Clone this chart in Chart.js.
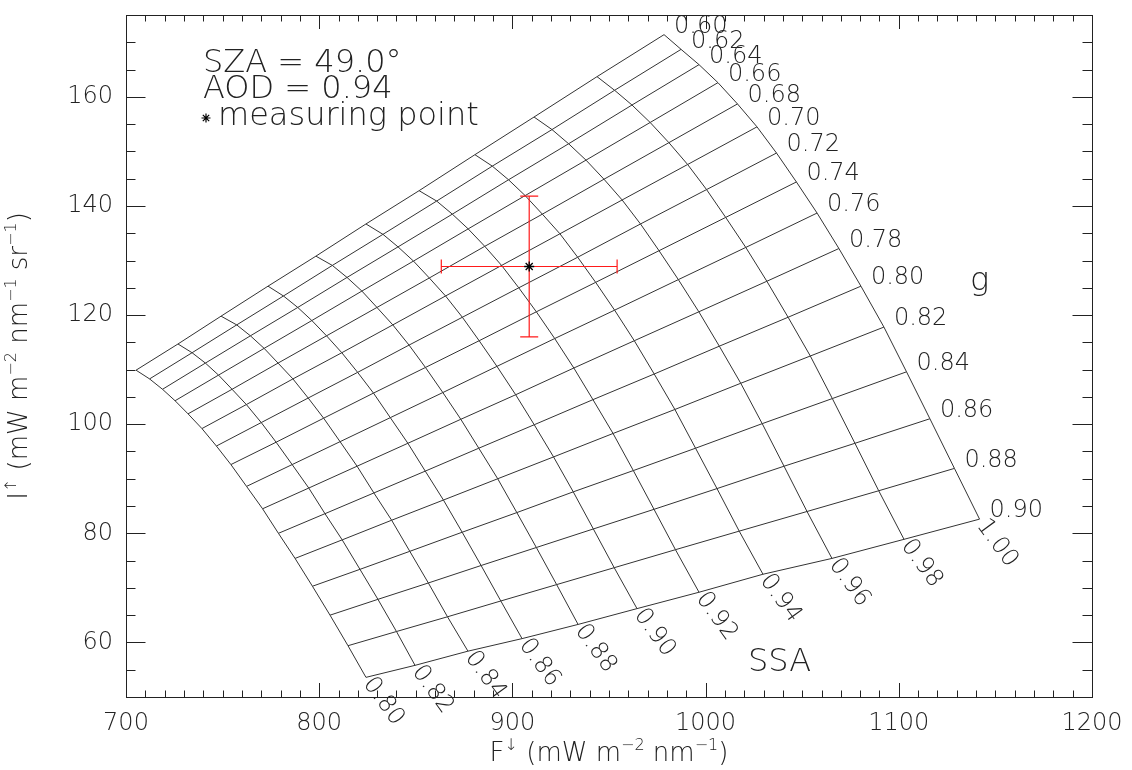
<!DOCTYPE html>
<html>
<head>
<meta charset="utf-8">
<script src="https://cdn.jsdelivr.net/npm/chart.js@4.4.1/dist/chart.umd.min.js"></script>
<style>
  html, body { margin: 0; padding: 0; background: #fff; }
  #wrap { width: 1132px; height: 770px; position: relative; }
</style>
</head>
<body>
<div id="wrap"><canvas id="lutChart"></canvas></div>
<script>
// grid parameters
var ssaValues = [0.80, 0.82, 0.84, 0.86, 0.88, 0.90, 0.92, 0.94, 0.96, 0.98, 1.00];
var gValues = [0.60, 0.62, 0.64, 0.66, 0.68, 0.70, 0.72, 0.74, 0.76, 0.78, 0.80, 0.82, 0.84, 0.86, 0.88, 0.90];
var ssaLabels = ["0.80", "0.82", "0.84", "0.86", "0.88", "0.90", "0.92", "0.94", "0.96", "0.98", "1.00"];
var gLabels = ["0.60", "0.62", "0.64", "0.66", "0.68", "0.70", "0.72", "0.74", "0.76", "0.78", "0.80", "0.82", "0.84", "0.86", "0.88", "0.90"];

// F (x) per g row, one value per SSA
var fluxRows = [
    [705.2, 726.9, 749.2, 773.5, 798.3, 824.2, 851.7, 880.6, 911.2, 943.8, 978.5],
    [712.2, 734.2, 757.3, 781.5, 806.8, 833.0, 860.8, 889.6, 920.5, 952.9, 987.3],
    [718.9, 741.1, 764.4, 788.9, 814.4, 840.8, 868.9, 898.0, 929.1, 961.9, 996.6],
    [725.4, 747.9, 771.5, 796.2, 822.1, 848.8, 877.1, 906.6, 938.1, 971.3, 1006.4],
    [732.1, 754.9, 778.7, 803.8, 829.9, 857.0, 885.7, 915.5, 947.4, 981.0, 1016.5],
    [739.3, 762.3, 786.4, 811.7, 838.1, 865.4, 894.4, 924.6, 956.8, 990.7, 1026.6],
    [746.8, 770.0, 794.3, 819.9, 846.5, 874.1, 903.3, 933.8, 966.3, 1000.5, 1036.7],
    [754.3, 777.7, 802.3, 828.1, 855.0, 882.8, 912.4, 943.1, 975.9, 1010.4, 1047.0],
    [762.4, 786.0, 810.8, 836.8, 864.0, 892.0, 921.9, 952.9, 985.9, 1020.8, 1057.7],
    [770.7, 794.6, 819.6, 845.9, 873.3, 901.7, 931.8, 963.1, 996.5, 1031.7, 1069.0],
    [778.9, 803.0, 828.3, 854.9, 882.6, 911.3, 941.7, 973.4, 1007.1, 1042.7, 1080.4],
    [787.5, 811.9, 837.5, 864.3, 892.4, 921.3, 952.1, 984.1, 1018.2, 1054.2, 1092.3],
    [796.5, 821.1, 846.9, 874.0, 902.3, 931.5, 962.6, 994.8, 1029.3, 1065.6, 1104.0],
    [805.6, 830.4, 856.5, 883.8, 912.4, 941.9, 973.3, 1005.9, 1040.6, 1077.3, 1116.1],
    [814.9, 840.0, 866.4, 894.0, 922.9, 952.7, 984.4, 1017.4, 1052.5, 1089.6, 1128.8],
    [824.2, 849.6, 877.0, 905.0, 934.0, 964.5, 996.6, 1029.7, 1065.4, 1102.7, 1141.8]
];

// I (y) per g row, one value per SSA
var radRows = [
    [109.9, 114.7, 119.8, 125.3, 130.8, 136.7, 142.8, 149.4, 156.3, 163.7, 171.4],
    [108.3, 113.1, 118.2, 123.5, 129.1, 134.8, 140.9, 147.3, 154.0, 161.2, 168.7],
    [106.4, 111.2, 116.2, 121.4, 126.9, 132.5, 138.5, 144.8, 151.4, 158.5, 165.9],
    [104.3, 109.0, 113.9, 119.0, 124.4, 129.9, 135.8, 141.9, 148.4, 155.3, 162.6],
    [101.9, 106.4, 111.2, 116.2, 121.4, 126.8, 132.6, 138.5, 144.9, 151.6, 158.7],
    [99.2, 103.6, 108.3, 113.1, 118.2, 123.5, 129.1, 134.9, 141.1, 147.6, 154.5],
    [96.0, 100.3, 104.8, 109.5, 114.5, 119.6, 125.0, 130.6, 136.7, 143.0, 149.7],
    [92.6, 96.7, 101.1, 105.7, 110.4, 115.3, 120.6, 126.0, 131.8, 137.9, 144.4],
    [88.6, 92.6, 96.8, 101.2, 105.8, 110.6, 115.7, 120.9, 126.5, 132.4, 138.7],
    [84.5, 88.3, 92.3, 96.5, 100.9, 105.4, 110.3, 115.3, 120.6, 126.2, 132.2],
    [80.0, 83.6, 87.4, 91.4, 95.6, 99.9, 104.5, 109.2, 114.3, 119.6, 125.3],
    [75.4, 78.8, 82.4, 86.1, 90.0, 94.0, 98.3, 102.7, 107.5, 112.5, 117.8],
    [70.3, 73.4, 76.7, 80.2, 83.8, 87.6, 91.5, 95.6, 100.1, 104.7, 109.6],
    [65.0, 67.9, 70.9, 74.1, 77.4, 80.8, 84.4, 88.2, 92.3, 96.5, 101.0],
    [59.4, 62.0, 64.7, 67.6, 70.6, 73.7, 77.0, 80.4, 84.0, 87.8, 91.9],
    [53.6, 55.8, 58.4, 60.7, 63.3, 66.2, 69.2, 72.5, 75.4, 78.9, 82.6]
];

// measuring point with error bars
var measF = 908.7, measI = 128.9;
var errF = 45.5, errI = 12.9;

var xTickValues = [700, 800, 900, 1000, 1100, 1200];
var yTickValues = [60, 80, 100, 120, 140, 160];

var FONT = '"DejaVu Sans", "Liberation Sans", sans-serif';
var INK = "#222";

function fontStr(size) { return "200 " + size + "px " + FONT; }

// text with superscripts, drawn left to right
function drawRich(ctx, parts, x, y, size, align) {
    var total = 0;
    parts.forEach(function (p) {
        ctx.font = fontStr(p.sup ? Math.round(size * 0.62) : size);
        p.w = ctx.measureText(p.t).width;
        total += p.w;
    });
    var cx = align === "center" ? x - total / 2 : x;
    ctx.textAlign = "left";
    ctx.textBaseline = "alphabetic";
    parts.forEach(function (p) {
        ctx.font = fontStr(p.sup ? Math.round(size * 0.62) : size);
        ctx.fillText(p.t, cx, p.sup ? y - size * 0.42 : y);
        cx += p.w;
    });
}

function drawStar(ctx, x, y, r) {
    ctx.beginPath();
    for (var k = 0; k < 4; k++) {
        var a = k * Math.PI / 4;
        ctx.moveTo(x - r * Math.cos(a), y - r * Math.sin(a));
        ctx.lineTo(x + r * Math.cos(a), y + r * Math.sin(a));
    }
    ctx.stroke();
}

var gridDecor = {
    id: "gridDecor",
    beforeDatasetDraw: function (chart, args) {
        if (args.index !== 0) return;
        var ctx = chart.ctx, xs = chart.scales.x, ys = chart.scales.y;
        var px = xs.getPixelForValue(measF), py = ys.getPixelForValue(measI);
        var x1 = xs.getPixelForValue(measF - errF), x2 = xs.getPixelForValue(measF + errF);
        var y1 = ys.getPixelForValue(measI + errI), y2 = ys.getPixelForValue(measI - errI);
        ctx.save();
        ctx.strokeStyle = "#ff1a1a";
        ctx.lineWidth = 1.2;
        ctx.beginPath();
        ctx.moveTo(x1, py); ctx.lineTo(x2, py);
        ctx.moveTo(x1, py - 7); ctx.lineTo(x1, py + 7);
        ctx.moveTo(x2, py - 7); ctx.lineTo(x2, py + 7);
        ctx.moveTo(px, y1); ctx.lineTo(px, y2);
        ctx.moveTo(px - 9, y1); ctx.lineTo(px + 9, y1);
        ctx.moveTo(px - 9, y2); ctx.lineTo(px + 9, y2);
        ctx.stroke();
        ctx.restore();
    },
    afterDraw: function (chart) {
        var ctx = chart.ctx, a = chart.chartArea;
        var xs = chart.scales.x, ys = chart.scales.y;
        ctx.save();
        ctx.strokeStyle = INK;
        ctx.fillStyle = INK;
        ctx.lineWidth = 1;

        // frame
        ctx.strokeRect(a.left + 0.5, a.top + 0.5, a.right - a.left, a.bottom - a.top);

        // ticks on all four sides
        ctx.beginPath();
        for (var v = 700; v <= 1200; v += 10) {
            var x = Math.round(xs.getPixelForValue(v)) + 0.5;
            var len = v % 100 === 0 ? 14 : 6.5;
            ctx.moveTo(x, a.bottom); ctx.lineTo(x, a.bottom - len);
            ctx.moveTo(x, a.top); ctx.lineTo(x, a.top + len);
        }
        for (var w = 50; w <= 175; w += 5) {
            var y = Math.round(ys.getPixelForValue(w)) + 0.5;
            var ln = w % 20 === 0 ? 19.5 : 9.5;
            ctx.moveTo(a.left, y); ctx.lineTo(a.left + ln, y);
            ctx.moveTo(a.right, y); ctx.lineTo(a.right - ln, y);
        }
        ctx.stroke();

        // g labels at the right end of each g line
        ctx.font = fontStr(24);
        ctx.textAlign = "left";
        ctx.textBaseline = "middle";
        gLabels.forEach(function (t, j) {
            var gx = xs.getPixelForValue(fluxRows[j][10]);
            var gy = ys.getPixelForValue(radRows[j][10]);
            ctx.fillText(t, gx + 10, gy - 8);
        });

        // SSA labels at the bottom end of each SSA curve
        ssaLabels.forEach(function (t, i) {
            var sx = xs.getPixelForValue(fluxRows[15][i]);
            var sy = ys.getPixelForValue(radRows[15][i]);
            ctx.save();
            ctx.translate(sx, sy);
            ctx.rotate(54 * Math.PI / 180);
            ctx.font = fontStr(24);
            ctx.textAlign = "left";
            ctx.textBaseline = "middle";
            ctx.fillText(t, 3, 0);
            ctx.restore();
        });

        // parameter names
        ctx.font = fontStr(32);
        ctx.textAlign = "left";
        ctx.textBaseline = "alphabetic";
        ctx.fillText("g", 970, 290);
        ctx.fillText("SSA", 748, 671);

        // annotation block
        ctx.fillText("SZA = 49.0\u00B0", a.left + 77, 72);
        ctx.fillText("AOD = 0.94", a.left + 77, 98);
        ctx.fillText("measuring point", a.left + 92, 125);
        ctx.lineWidth = 1.2;
        ctx.strokeStyle = "#000";
        drawStar(ctx, a.left + 80, 118, 4.5);

        // axis titles
        drawRich(ctx, [
            { t: "F" }, { t: "\u2193", sup: true }, { t: " (mW m" }, { t: "\u22122", sup: true },
            { t: " nm" }, { t: "\u22121", sup: true }, { t: ")" }
        ], (a.left + a.right) / 2, 761, 26, "center");

        ctx.save();
        ctx.translate(18, (a.top + a.bottom) / 2);
        ctx.rotate(-Math.PI / 2);
        drawRich(ctx, [
            { t: "I" }, { t: "\u2191", sup: true }, { t: " (mW m" }, { t: "\u22122", sup: true },
            { t: " nm" }, { t: "\u22121", sup: true }, { t: " sr" }, { t: "\u22121", sup: true }, { t: ")" }
        ], 0, 9, 26, "center");
        ctx.restore();

        ctx.restore();
    }
};

var datasets = [];
// index 0 is drawn last, on top of the grid
datasets.push({
    label: "measuring point",
    data: [{ x: measF, y: measI }],
    showLine: false,
    pointStyle: "star",
    pointRadius: 5,
    borderColor: "#000",
    backgroundColor: "#000",
    borderWidth: 1.3
});
gValues.forEach(function (g, j) {
    datasets.push({
        label: "g = " + gLabels[j],
        data: ssaValues.map(function (s, i) { return { x: fluxRows[j][i], y: radRows[j][i] }; }),
        showLine: true,
        borderColor: "#333",
        borderWidth: 1,
        pointRadius: 0,
        tension: 0,
        fill: false
    });
});
ssaValues.forEach(function (s, i) {
    datasets.push({
        label: "SSA = " + ssaLabels[i],
        data: gValues.map(function (g, j) { return { x: fluxRows[j][i], y: radRows[j][i] }; }),
        showLine: true,
        borderColor: "#333",
        borderWidth: 1,
        pointRadius: 0,
        tension: 0,
        fill: false
    });
});

var ctx = document.getElementById("lutChart").getContext("2d");
new Chart(ctx, {
    type: "scatter",
    data: { datasets: datasets },
    options: {
        responsive: true,
        maintainAspectRatio: false,
        animation: false,
        layout: { autoPadding: false, padding: { left: 0, top: 15, right: 40, bottom: 0 } },
        plugins: {
            legend: { display: false },
            tooltip: { enabled: false }
        },
        scales: {
            x: {
                type: "linear",
                min: 700,
                max: 1200,
                afterBuildTicks: function (scale) {
                    scale.ticks = xTickValues.map(function (v) { return { value: v }; });
                },
                afterFit: function (scale) {
                    scale.height = 73;
                    scale.paddingLeft = 0;
                    scale.paddingRight = 0;
                },
                grid: { display: false, drawTicks: false },
                border: { display: false },
                ticks: {
                    color: INK,
                    padding: 12,
                    maxRotation: 0,
                    autoSkip: false,
                    font: { family: FONT, size: 24, weight: "200" },
                    callback: function (v) { return String(v); }
                }
            },
            y: {
                type: "linear",
                min: 50,
                max: 175,
                afterBuildTicks: function (scale) {
                    scale.ticks = yTickValues.map(function (v) { return { value: v }; });
                },
                afterFit: function (scale) {
                    scale.width = 126;
                    scale.paddingTop = 0;
                    scale.paddingBottom = 0;
                },
                grid: { display: false, drawTicks: false },
                border: { display: false },
                ticks: {
                    color: INK,
                    padding: 13,
                    autoSkip: false,
                    font: { family: FONT, size: 24, weight: "200" },
                    callback: function (v) { return String(v); }
                }
            }
        }
    },
    plugins: [gridDecor]
});
</script>
</body>
</html>
